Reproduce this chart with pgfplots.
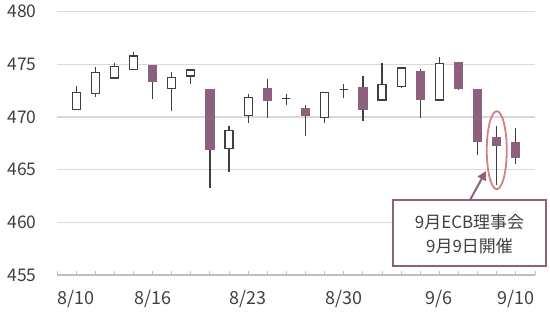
\documentclass[border=0pt]{standalone}
\usepackage{pgfplots}
\pgfplotsset{compat=1.18}
\usepgfplotslibrary{statistics}
\usetikzlibrary{arrows.meta}
\usepackage{fontspec}
\newfontfamily\cjk{Noto Sans CJK JP}
\definecolor{purp}{RGB}{141,96,126}
\definecolor{dgray}{RGB}{64,64,64}
\definecolor{gridc}{RGB}{217,217,217}
\definecolor{tickc}{RGB}{191,191,191}
\definecolor{ellc}{RGB}{208,130,130}
% pos, low, open, close, high  (close >= open)
\newcommand{\up}[5]{%
 \addplot[draw=dgray, fill=white, line width=1.2bp,
   boxplot prepared={draw position=#1, lower whisker=#2, lower quartile=#3,
   median=#3, upper quartile=#4, upper whisker=#5,
   every whisker/.style={draw=dgray}}] coordinates {};}
% pos, low, close, open, high  (close < open)
\newcommand{\dn}[5]{%
 \addplot[draw=purp, fill=purp, line width=1.2bp,
   boxplot prepared={draw position=#1, lower whisker=#2, lower quartile=#3,
   median=#3, upper quartile=#4, upper whisker=#5,
   every whisker/.style={draw=dgray}}] coordinates {};}
\begin{document}
\begin{tikzpicture}
\path[use as bounding box] (0,0) rectangle (550bp,312bp);
\begin{axis}[
 at={(57bp,37bp)}, anchor=south west,
 scale only axis, width=478bp, height=263.3bp,
 xmin=-1, xmax=24, ymin=455, ymax=480,
 axis x line*=bottom, axis y line*=left,
 y axis line style={draw=none},
 x axis line style={draw=tickc, line width=1.2bp},
 ytick={455,460,...,480}, ymajorgrids,
 grid style={draw=gridc, line width=1.3bp},
 ytick style={draw=none},
 xtick={0,4,9,14,19,23}, xticklabels={8/10,8/16,8/23,8/30,9/6,9/10},
 minor xtick={-1,...,24},
 xtick style={draw=tickc, line width=1bp},
 minor x tick style={draw=tickc, line width=1bp},
 major tick length=4bp, minor tick length=4bp, tick align=inside,
 font=\cjk\fontsize{17.5}{20}\selectfont,
 tick label style={text=dgray},
 /pgf/number format/assume math mode=true,
 yticklabel style={xshift=-17bp},
 xticklabel style={yshift=-12bp, font=\cjk\fontsize{18}{20}\selectfont},
 boxplot/draw direction=y,
 boxplot/box extend=0.42, boxplot/whisker extend=0,
 clip=false,
]
\up{0}{470.7}{470.7}{472.35}{472.94}
\up{1}{471.93}{472.27}{474.25}{474.78}
\up{2}{473.7}{473.7}{474.8}{475.1}
\up{3}{474.5}{474.5}{475.8}{476.15}
\dn{4}{471.74}{473.35}{474.84}{474.84}
\up{5}{470.6}{472.73}{473.77}{474.27}
\up{6}{473.1}{473.89}{474.46}{474.56}
\dn{7}{463.23}{466.96}{472.56}{472.56}
\up{8}{464.78}{467.03}{468.7}{469.17}
\up{9}{469.4}{470.12}{471.83}{472.15}
\dn{10}{469.93}{471.55}{472.66}{473.6}
\up{11}{471.1}{471.74}{471.74}{472.18}
\dn{12}{468.2}{470.12}{470.83}{471.1}
\up{13}{469.4}{469.97}{472.35}{472.35}
\up{14}{471.78}{472.63}{472.63}{473.13}
\dn{15}{469.65}{470.73}{472.82}{473.9}
\up{16}{471.6}{471.61}{473.07}{475.1}
\up{17}{472.8}{472.92}{474.65}{474.78}
\dn{18}{469.88}{471.71}{474.3}{474.56}
\up{19}{471.6}{471.61}{475.1}{475.67}
\dn{20}{472.63}{472.69}{475.16}{475.16}
\dn{21}{466.39}{467.65}{472.63}{472.63}
\dn{22}{463.54}{467.34}{468.03}{469.17}
\dn{23}{465.54}{466.17}{467.56}{468.98}
\draw[ellc, line width=1.8bp] (axis cs:22,466.85) ellipse [x radius=10bp, y radius=39bp];
\end{axis}
\draw[purp, line width=1.5bp, fill=white] (393bp,46bp) rectangle (546bp,112bp);
\node[text=dgray, font=\cjk\fontsize{17}{20}\selectfont] at (469.5bp,89.5bp) {9月ECB理事会};
\node[text=dgray, font=\cjk\fontsize{17}{20}\selectfont] at (469.5bp,66.2bp) {9月9日開催};
\draw[purp, line width=2bp, -{Triangle[length=9bp,width=9bp]}] (470bp,112bp) -- (486bp,141bp);
\end{tikzpicture}
\end{document}
